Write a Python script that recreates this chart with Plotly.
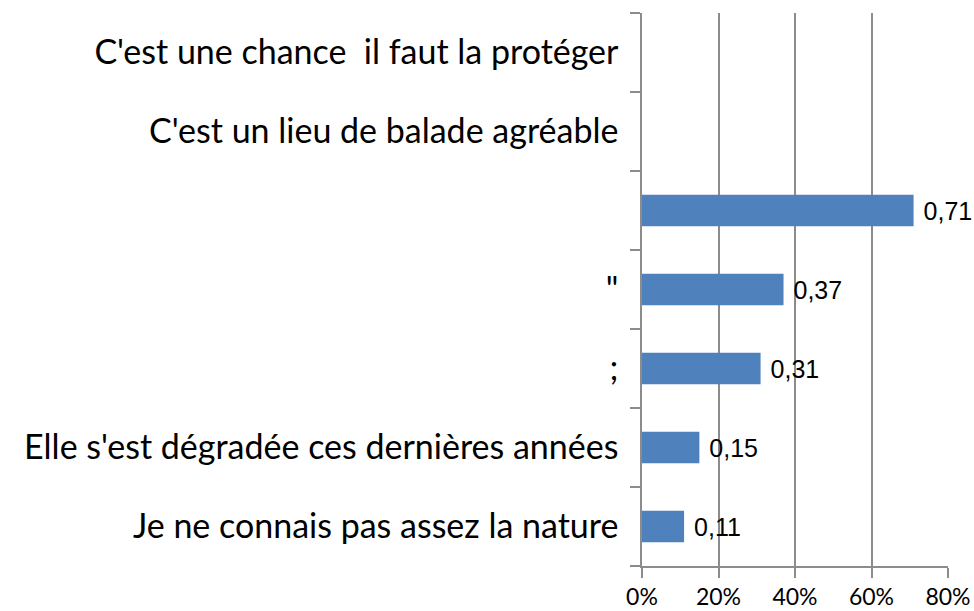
import plotly.graph_objects as go

categories = [
    "Je ne connais pas assez la nature",
    "Elle s'est dégradée ces dernières années",
    ";",
    "\"",
    " ",
    "C'est un lieu de balade agréable",
    "C'est une chance\u00a0\u00a0il faut la protéger",
]
values = [0.11, 0.15, 0.31, 0.37, 0.71, None, None]
x_tick_vals = [0, 0.2, 0.4, 0.6, 0.8]
x_tick_text = ["0%", "20%", "40%", "60%", "80%"]

labels = ["" if v is None else "\u00a0" + f"{v:.2f}".replace(".", ",") for v in values]

fig = go.Figure(
    go.Bar(
        y=categories,
        x=values,
        orientation="h",
        marker=dict(color="#4F81BD", line=dict(width=0)),
        text=labels,
        textposition="outside",
        textfont=dict(family="Liberation Sans, Arial, sans-serif", size=25, color="#000000"),
        cliponaxis=False,
        width=0.4,
    )
)

grid_color = "#8C8C8C"
fig.update_layout(
    width=974,
    height=611,
    margin=dict(l=642, r=26, t=13, b=45, pad=0),
    paper_bgcolor="white",
    plot_bgcolor="white",
    showlegend=False,
    uniformtext=dict(mode=False),
    xaxis=dict(
        automargin=False,
        range=[0, 0.8],
        tickvals=x_tick_vals,
        ticktext=x_tick_text,
        showgrid=True,
        gridcolor=grid_color,
        gridwidth=1.5,
        zeroline=False,
        showline=True,
        linecolor=grid_color,
        linewidth=1.5,
        ticks="outside",
        ticklen=10,
        tickcolor=grid_color,
        tickwidth=1.5,
        tickfont=dict(family="Lato, Calibri, sans-serif", size=23, color="#000000"),
    ),
    yaxis=dict(
        automargin=False,
        type="category",
        categoryorder="array",
        categoryarray=categories,
        tickson="boundaries",
        ticks="outside",
        ticklen=10,
        tickcolor=grid_color,
        tickwidth=1.5,
        ticklabelstandoff=15,
        showgrid=False,
        showline=True,
        linecolor=grid_color,
        linewidth=1.5,
        tickfont=dict(family="Lato, Calibri, sans-serif", size=34, color="#000000"),
    ),
)

fig.write_html(
    "out.html",
    config={"displayModeBar": False},
    post_script="document.body.style.margin='0';",
)
